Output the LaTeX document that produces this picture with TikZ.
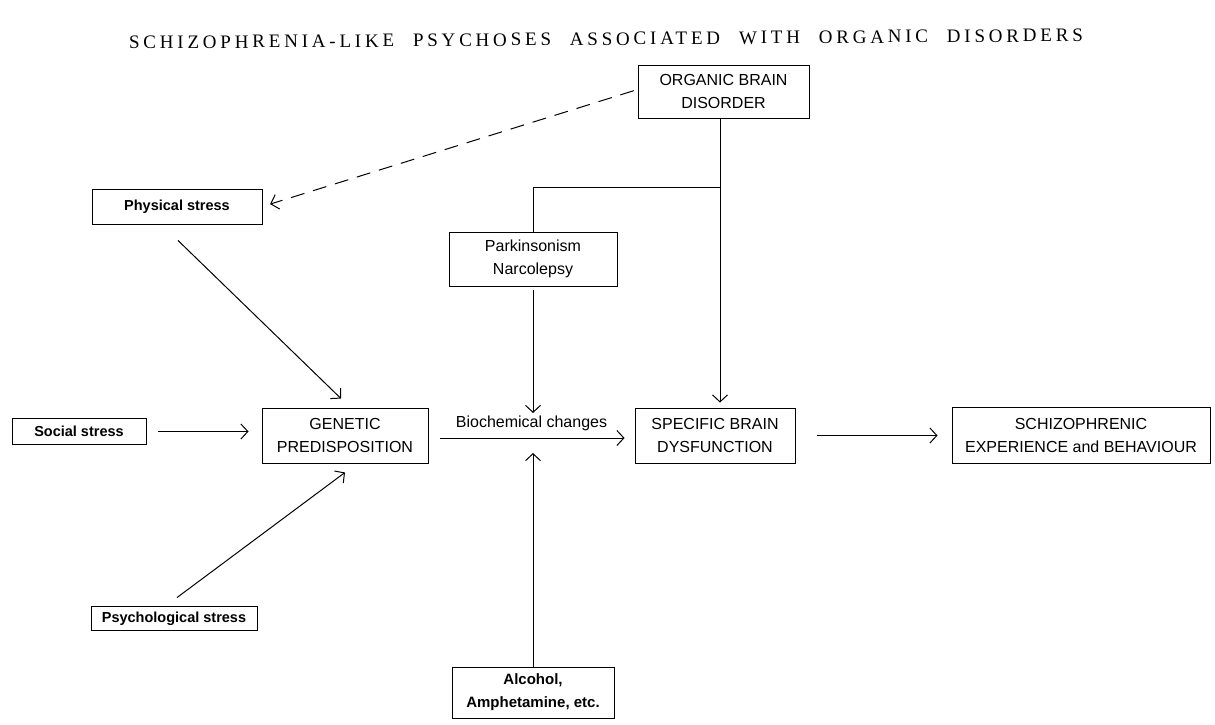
\documentclass[tikz,border=0pt]{standalone}
\usepackage{fontspec}
\setmainfont{Liberation Serif}
\newfontfamily\boxfont{Liberation Sans}
\newfontfamily\titlefont[LetterSpace=20,WordSpace=2.2]{Liberation Serif}
\usetikzlibrary{arrows.meta}
\tikzset{
  box/.style={draw, line width=0.9pt, inner sep=0pt, align=center,
    font=\boxfont\fontsize{16}{23}\selectfont},
  smallbox/.style={box, font=\boxfont\bfseries\fontsize{14.5}{18}\selectfont},
  conn/.style={line width=1pt},
  arr/.style={conn, -{Straight Barb[length=7pt,width=15pt,line width=1pt]}},
  dashedarr/.style={arr, dash pattern=on 14pt off 9pt}
}
\begin{document}
\begin{tikzpicture}[x=1pt,y=-1pt]
\useasboundingbox (0,0) rectangle (1215,724);
\fill[white] (0,0) rectangle (1215,724);

\node[font=\titlefont\fontsize{19}{22}\selectfont, rotate=0.45] (title) at (606,39)
  {SCHIZOPHRENIA-LIKE PSYCHOSES ASSOCIATED WITH ORGANIC DISORDERS};

\node[box, minimum width=171pt, minimum height=53pt] (organic) at (723.5,91.5) {ORGANIC BRAIN\\DISORDER};
\node[smallbox, minimum width=170pt, minimum height=35pt] (physical) at (177,206.5) {Physical stress};
\node[box, minimum width=168pt, minimum height=54pt] (parkinson) at (533,259) {Parkinsonism\\Narcolepsy};
\node[smallbox, minimum width=134pt, minimum height=26pt] (social) at (79,431.5) {Social stress};
\node[box, minimum width=166pt, minimum height=55pt] (genetic) at (345,435.5) {GENETIC\\PREDISPOSITION};
\node[box, minimum width=160pt, minimum height=55pt] (specific) at (715,435.5) {SPECIFIC BRAIN\\DYSFUNCTION};
\node[box, minimum width=258pt, minimum height=56pt] (schizo) at (1081,435) {SCHIZOPHRENIC\\EXPERIENCE and BEHAVIOUR};
\node[smallbox, minimum width=166pt, minimum height=24pt] (psych) at (174,618.5) {Psychological stress};
\node[box, font=\boxfont\bfseries\fontsize{15}{23}\selectfont, minimum width=162pt, minimum height=51pt] (alcohol) at (533,692.5) {Alcohol,\\Amphetamine, etc.};

\coordinate (br) at (720,187);
\coordinate (bc) at (533,438);

% organic -> physical (dashed)
\draw[dashedarr, shorten <=4pt, shorten >=8pt] ([yshift=2pt]organic.west) -- (physical.east);
% organic -> specific
\draw[conn] (organic.south -| br) -- (br);
\draw[arr, shorten >=5pt] (br) -- (br |- specific.north);
\draw[conn] (br) -| (parkinson.north);
% parkinson -> biochemical
\draw[arr, shorten <=4pt, shorten >=25pt] (parkinson.south) -- (bc);
% alcohol -> biochemical
\draw[arr, shorten >=15pt] (alcohol.north) -- (bc);
% stresses -> genetic
\draw[arr, shorten <=12pt, shorten >=13pt] (social.east) -- (social.east -| genetic.west);
\draw[arr] ([xshift=1pt,yshift=-16pt]physical.south) -- ([xshift=-4pt,yshift=9pt]genetic.north);
\draw[arr] ([xshift=3pt,yshift=8.5pt]psych.north) -- ([yshift=-9pt]genetic.south);
% genetic -> specific
\draw[arr, shorten <=12pt, shorten >=10pt] ([yshift=-2.5pt]genetic.east) -- ([yshift=-2.5pt]specific.west)
  node[midway, above=3pt, font=\boxfont\fontsize{16}{20}\selectfont] (bio) {Biochemical changes};
% specific -> schizo
\draw[arr, shorten <=22pt, shorten >=14pt] (specific.east) -- (specific.east -| schizo.west);
\end{tikzpicture}
\end{document}
